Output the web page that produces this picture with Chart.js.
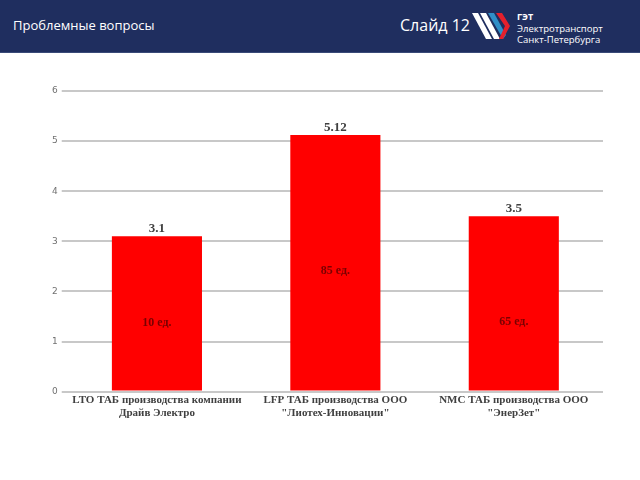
<!DOCTYPE html>
<html>
<head>
<meta charset="utf-8">
<script src="https://cdn.jsdelivr.net/npm/chart.js@4.4.1/dist/chart.umd.min.js"></script>
<style>
  body { margin: 0; width: 640px; height: 480px; background: #fff; position: relative; overflow: hidden; font-family: "Open Sans", "DejaVu Sans", sans-serif; }
  #header { position: absolute; left: 0; top: 0; width: 640px; height: 52px; background: #1f2e5f; border-bottom: 1px solid #3a4a78; }
  #title { position: absolute; left: 13px; top: 16px; color: #fff; font-size: 13px; }
  #slide { position: absolute; left: 400px; top: 14px; color: #fff; font-size: 16px; }
  #logo { position: absolute; left: 472px; top: 9px; }
  #brand { position: absolute; left: 517px; top: 11px; color: #fff; font-size: 9.5px; line-height: 11.5px; }
  #brand b { font-size: 9px; }
  #wrap { position: absolute; left: 0; top: 52px; width: 640px; height: 428px; }
</style>
</head>
<body>
<div id="header">
  <div id="title">Проблемные вопросы</div>
  <div id="slide">Слайд 12</div>
  <svg id="logo" width="44" height="34" viewBox="0 0 44 34">
    <polygon points="0,4 6,4 20,30 14,30" fill="#ffffff"/>
    <polygon points="8,4 14,4 28,30 22,30" fill="#ffffff"/>
    <polygon points="16,4 22,4 34,26 31,30" fill="#2f8fc8"/>
    <polygon points="24,4 30,4 38,17 31,30 27,30 33,17" fill="#e4202c"/>
  </svg>
  <div id="brand"><b>ГЭТ</b><br>Электротранспорт<br>Санкт-Петербурга</div>
</div>
<div id="wrap"><canvas id="chartBaterias" width="640" height="428"></canvas></div>
<script>
const categorias = [
    ['LTO ТАБ производства компании', 'Драйв Электро'],
    ['LFP ТАБ производства ООО', '"Лиотех-Инновации"'],
    ['NMC ТАБ производства ООО', '"ЭнерЗет"']
];
const valores = [3.1, 5.12, 3.5];
const etiquetasValor = ['3.1', '5.12', '3.5'];
const etiquetasInternas = ['10 ед.', '85 ед.', '65 ед.'];
const ticksY = [0, 1, 2, 3, 4, 5, 6];

// etiquetas encima y dentro de las barras
const etiquetasBarras = {
    id: 'etiquetasBarras',
    afterDatasetsDraw(chart, args, opts) {
        const ctx = chart.ctx;
        const meta = chart.getDatasetMeta(0);
        const escalaY = chart.scales.y;
        ctx.save();
        ctx.textAlign = 'center';
        meta.data.forEach((barra, i) => {
            ctx.font = 'bold 13px "Liberation Serif", serif';
            ctx.fillStyle = '#404040';
            ctx.textBaseline = 'bottom';
            ctx.fillText(etiquetasValor[i], barra.x, barra.y - 1);

            ctx.font = 'bold 12px "Liberation Serif", serif';
            ctx.fillStyle = '#7a0000';
            ctx.textBaseline = 'middle';
            ctx.fillText(etiquetasInternas[i], barra.x, escalaY.getPixelForValue(opts.posiciones[i]));
        });
        ctx.restore();
    }
};

const canvas = document.getElementById('chartBaterias');
const context = canvas.getContext('2d');

const chartBaterias = new Chart(context, {
    type: 'bar',
    data: {
        labels: categorias,
        datasets: [
            {
                label: 'ТАБ',
                data: valores,
                backgroundColor: '#ff0000',
                barPercentage: 0.505,
                categoryPercentage: 1
            }
        ]
    },
    options: {
        responsive: false,
        animation: false,
        layout: {
            padding: { left: 48, right: 37, top: 39, bottom: 58 }
        },
        plugins: {
            legend: { display: false },
            tooltip: { enabled: false },
            etiquetasBarras: { posiciones: [1.37, 2.4, 1.39] }
        },
        scales: {
            x: {
                grid: { display: false, drawTicks: false },
                border: { display: false },
                ticks: {
                    color: '#404040',
                    maxRotation: 0,
                    autoSkip: false,
                    font: { family: '"Liberation Serif", serif', size: 11, weight: 'bold' },
                    padding: 2
                }
            },
            y: {
                min: 0,
                max: 6,
                afterBuildTicks: (escala) => {
                    escala.ticks = ticksY.map(v => ({ value: v }));
                },
                border: { display: false },
                grid: {
                    color: '#c8c8c8',
                    lineWidth: 2,
                    tickLength: 6
                },
                ticks: {
                    color: '#707070',
                    font: { family: '"DejaVu Sans", sans-serif', size: 9 },
                    padding: 4
                }
            }
        }
    },
    plugins: [etiquetasBarras]
});
</script>
</body>
</html>
